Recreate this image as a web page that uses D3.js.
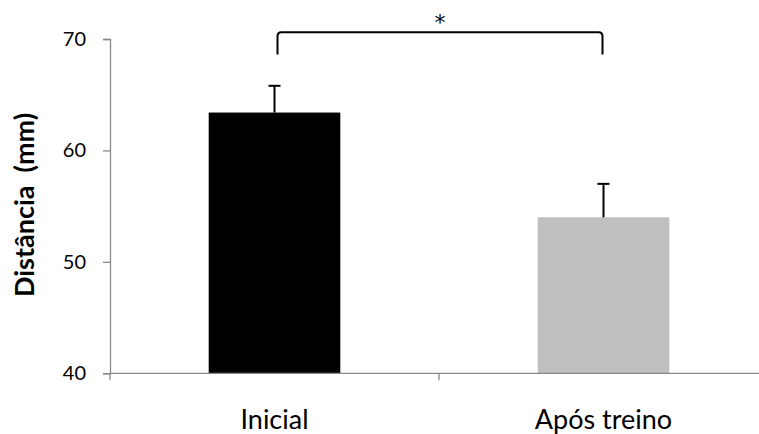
<!DOCTYPE html>
<html>
<head>
<meta charset="utf-8">
<script src="https://cdn.jsdelivr.net/npm/d3@7"></script>
<style>
  html, body { margin: 0; padding: 0; background: #fff; }
  svg { display: block; font-family: Lato, "Open Sans", sans-serif; }
</style>
</head>
<body>
<svg id="chart" width="759" height="434"></svg>
<script>
// dados do gráfico
const categories = ["Inicial", "Após treino"];
const means = [63.4, 54.0];
const errors = [2.4, 3.0];
const barColors = ["#000000", "#bfbfbf"];
const yTicks = [40, 50, 60, 70];
const yTitle = "Distância  (mm)";
const signif = { label: "*", top: 70.6, leg: 68.6 };

(() => {
const svg = d3.select("#chart");
const mLeft = 110, mTop = 39, mBottom = 373.3, mRight = 768;

const x = d3.scaleBand().domain(categories).range([mLeft, mRight]).padding(0);
const y = d3.scaleLinear().domain([40, 70]).range([mBottom, mTop]);

const barW = x.bandwidth() * 0.4;
const axisColor = "#898989";

// eixo Y
const yAxis = svg.append("g")
    .attr("transform", `translate(${mLeft},0)`)
    .call(d3.axisLeft(y).tickValues(yTicks).tickSize(7).tickPadding(17));
yAxis.select(".domain").attr("stroke", axisColor).attr("stroke-width", 1.3);
yAxis.selectAll(".tick line").attr("stroke", axisColor).attr("stroke-width", 1.3);
yAxis.selectAll(".tick text")
    .attr("font-size", 20).attr("fill", "#000")
    .attr("font-family", "Lato, sans-serif");

// barras
svg.append("g").selectAll("rect")
    .data(categories)
    .join("rect")
    .attr("x", d => x(d) + (x.bandwidth() - barW) / 2)
    .attr("width", barW)
    .attr("y", (d, i) => y(means[i]))
    .attr("height", (d, i) => y(40) - y(means[i]))
    .attr("fill", (d, i) => barColors[i]);

// barras de erro (só o lado positivo aparece)
const eb = svg.append("g").attr("stroke", "#000").attr("stroke-width", 2);
categories.forEach((c, i) => {
    const cx = x(c) + x.bandwidth() / 2;
    eb.append("line").attr("x1", cx).attr("x2", cx)
        .attr("y1", y(means[i])).attr("y2", y(means[i] + errors[i]));
    eb.append("line").attr("x1", cx - 6).attr("x2", cx + 6)
        .attr("y1", y(means[i] + errors[i])).attr("y2", y(means[i] + errors[i]));
});

// eixo X (desenhado depois das barras)
const xg = svg.append("g");
xg.append("line")
    .attr("x1", mLeft).attr("x2", mRight).attr("y1", mBottom).attr("y2", mBottom)
    .attr("stroke", axisColor).attr("stroke-width", 1.3);
const bounds = categories.map(c => x(c)).concat([x(categories[categories.length - 1]) + x.bandwidth()]);
xg.selectAll("line.tk").data(bounds).join("line")
    .attr("class", "tk")
    .attr("x1", d => d).attr("x2", d => d)
    .attr("y1", mBottom).attr("y2", mBottom + 7)
    .attr("stroke", axisColor).attr("stroke-width", 1.3);
xg.selectAll("text").data(categories).join("text")
    .attr("x", d => x(d) + x.bandwidth() / 2)
    .attr("y", 429)
    .attr("text-anchor", "middle")
    .attr("font-size", 27)
    .text(d => d);

// título do eixo Y
svg.append("text")
    .attr("transform", `translate(34,${205}) rotate(-90)`)
    .attr("text-anchor", "middle")
    .attr("font-size", 27)
    .attr("font-weight", "bold")
    .style("white-space", "pre")
    .text(yTitle);

// colchete de significância
const x1 = x(categories[0]) + x.bandwidth() / 2 + 3;
const x2 = x(categories[1]) + x.bandwidth() / 2 - 1;
const yt = y(signif.top), yl = y(signif.leg), r = 4;
svg.append("path")
    .attr("d", `M${x1},${yl} L${x1},${yt + r} Q${x1},${yt} ${x1 + r},${yt} L${x2 - r},${yt} Q${x2},${yt} ${x2},${yt + r} L${x2},${yl}`)
    .attr("fill", "none").attr("stroke", "#000").attr("stroke-width", 2);
svg.append("text")
    .attr("x", (x1 + x2) / 2)
    .attr("y", 30)
    .attr("text-anchor", "middle")
    .attr("font-size", 22)
    .attr("font-family", "DejaVu Sans, sans-serif")
    .text(signif.label);
})();
</script>
</body>
</html>
